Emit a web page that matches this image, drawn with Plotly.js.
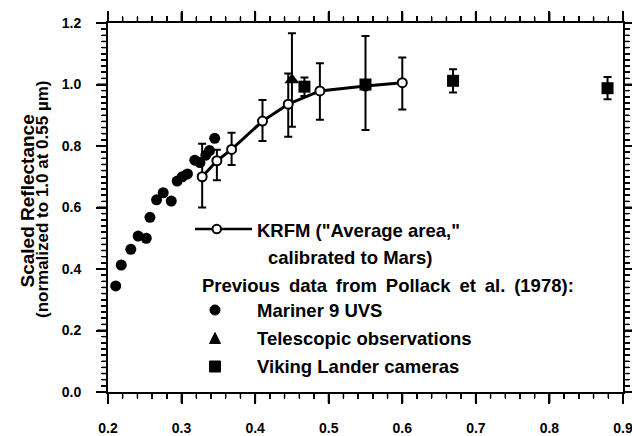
<!DOCTYPE html>
<html>
<head>
<meta charset="utf-8">
<script src="https://cdn.plot.ly/plotly-3.0.1.min.js"></script>
<style>
html,body{margin:0;padding:0;background:#fff;}
#chart{width:632px;height:436px;}
</style>
</head>
<body>
<div id="chart"></div>
<script>
// ---- data ----
var marinerX = [0.2105, 0.218, 0.231, 0.241, 0.252, 0.257, 0.266, 0.275, 0.286, 0.294, 0.301, 0.308, 0.318, 0.325, 0.333, 0.338, 0.345];
var marinerY = [0.345, 0.413, 0.464, 0.507, 0.500, 0.568, 0.625, 0.648, 0.621, 0.686, 0.700, 0.709, 0.754, 0.746, 0.770, 0.785, 0.825];

var teleX = [0.450];
var teleY = [1.015];
var teleErr = [0.152];

var krfmX = [0.328, 0.348, 0.368, 0.410, 0.445, 0.488, 0.550, 0.600];
var krfmY = [0.700, 0.752, 0.789, 0.881, 0.936, 0.979, 0.995, 1.006];
var krfmErrPlus = [0.107, 0.036, 0.054, 0.069, 0.100, 0.090, 0.163, 0.082];
var krfmErrMinus = [0.100, 0.063, 0.051, 0.065, 0.106, 0.094, 0.143, 0.087];

var vikingX = [0.467, 0.550, 0.669, 0.879];
var vikingY = [0.993, 1.000, 1.012, 0.988];
var vikingErr = [0.030, 0.000, 0.038, 0.036];

var xRange = [0.2, 0.9], yRange = [0.0, 1.2];
var xTick0 = 0.2, xDtick = 0.1, xMinorDtick = 0.02;
var yTick0 = 0.0, yDtick = 0.2, yMinorDtick = 0.02;

var legendLines = [
  'KRFM ("Average area,"',
  'calibrated to Mars)',
  'Previous\u2009 data\u2009 from\u2009 Pollack\u2009 et\u2009 al.\u2009 (1978):',
  'Mariner 9 UVS',
  'Telescopic observations',
  'Viking Lander cameras'
];
var yTitle1 = 'Scaled Reflectance';
var yTitle2 = '(normalized to 1.0 at 0.55 \u00b5m)';

// ---- layout helpers (pixel -> paper) ----
var L = 108, R = 623, T = 23, B = 392;
var W = R - L, H = B - T;
function px(x){ return (x - L) / W; }
function py(y){ return (B - y) / H; }

var FONT = 'Liberation Sans, Arial, Helvetica, sans-serif';
var errStyle = {thickness: 2, width: 4, color: '#000'};

var traces = [
  {x: marinerX, y: marinerY, mode: 'markers', type: 'scatter',
   marker: {symbol: 'circle', size: 11, color: '#000'}},
  {x: teleX, y: teleY, mode: 'markers', type: 'scatter',
   marker: {symbol: 'triangle-up', size: 13, color: '#000'},
   error_y: Object.assign({type: 'data', array: teleErr, visible: true}, errStyle)},
  {x: krfmX, y: krfmY, mode: 'lines+markers', type: 'scatter',
   line: {color: '#000', width: 3},
   marker: {symbol: 'circle', size: 9, color: '#fff', line: {color: '#000', width: 2}},
   error_y: Object.assign({type: 'data', symmetric: false, array: krfmErrPlus, arrayminus: krfmErrMinus, visible: true}, errStyle)},
  {x: vikingX, y: vikingY, mode: 'markers', type: 'scatter',
   marker: {symbol: 'square', size: 12, color: '#000'},
   error_y: Object.assign({type: 'data', array: vikingErr, visible: true}, errStyle)}
];

function axisBase(){
  return {
    showgrid: false, zeroline: false, showline: true, linecolor: '#000', linewidth: 2,
    mirror: 'ticks', ticks: 'outside', ticklen: 10, tickwidth: 2, tickcolor: '#000',
    tickfont: {family: FONT, size: 14, color: '#000', weight: 'bold'},
    tickformat: '.1f', ticklabeloverflow: 'allow'
  };
}

var layout = {
  width: 632, height: 436,
  margin: {l: L, r: 632 - R, t: T, b: 436 - B},
  showlegend: false,
  xaxis: Object.assign(axisBase(), {
    range: xRange, tick0: xTick0, dtick: xDtick, ticklabelstandoff: 12,
    minor: {dtick: xMinorDtick, ticks: 'outside', ticklen: 5, tickwidth: 1.5, tickcolor: '#000'}
  }),
  yaxis: Object.assign(axisBase(), {
    range: yRange, tick0: yTick0, dtick: yDtick, ticklabelstandoff: 12,
    minor: {dtick: yMinorDtick, ticks: 'outside', ticklen: 5, tickwidth: 1.5, tickcolor: '#000'}
  }),
  shapes: [],
  annotations: []
};

// tick marks on all four sides (paper-referenced lines placed at the axis tick values)
function xp(v){ return (v - xRange[0]) / (xRange[1] - xRange[0]); }
function yp(v){ return (v - yRange[0]) / (yRange[1] - yRange[0]); }
function tickLine(x0, x1, y0, y1, w){
  layout.shapes.push({type: 'line', xref: 'paper', yref: 'paper', x0: x0, x1: x1, y0: y0, y1: y1, line: {color: '#000', width: w}});
}
var nx = Math.round((xRange[1] - xRange[0]) / xMinorDtick);
for (var k = 0; k <= nx; k++) {
  var vx = xTick0 + k * xMinorDtick;
  var major = (k % Math.round(xDtick / xMinorDtick)) === 0;
  var len = major ? 10 : 5, w = major ? 2 : 1.5;
  tickLine(xp(vx), xp(vx), -1 / H, -(1 + len) / H, w);
  tickLine(xp(vx), xp(vx), 1 + 1 / H, 1 + (1 + len) / H, w);
}
var ny = Math.round((yRange[1] - yRange[0]) / yMinorDtick);
for (var j = 0; j <= ny; j++) {
  var vy = yTick0 + j * yMinorDtick;
  var majorY = (j % Math.round(yDtick / yMinorDtick)) === 0;
  var lenY = majorY ? 10 : 5, wY = majorY ? 2 : 1.5;
  tickLine(-1 / W, -(1 + lenY) / W, yp(vy), yp(vy), wY);
  tickLine(1 + 1 / W, 1 + (1 + lenY) / W, yp(vy), yp(vy), wY);
}

// legend symbols
layout.shapes.push(
  {type: 'line', xref: 'paper', yref: 'paper', x0: px(195), x1: px(252), y0: py(229), y1: py(229), line: {color: '#000', width: 2.5}},
  {type: 'circle', xref: 'paper', yref: 'paper', x0: px(212.5), x1: px(221), y0: py(233.3), y1: py(224.8), fillcolor: '#fff', line: {color: '#000', width: 2}},
  {type: 'circle', xref: 'paper', yref: 'paper', x0: px(210), x1: px(220), y0: py(315), y1: py(305), fillcolor: '#000', line: {color: '#000', width: 1}},
  {type: 'path', xref: 'paper', yref: 'paper',
   path: 'M ' + px(209.5) + ' ' + py(343.5) + ' L ' + px(220.5) + ' ' + py(343.5) + ' L ' + px(215) + ' ' + py(332.5) + ' Z',
   fillcolor: '#000', line: {color: '#000', width: 1}},
  {type: 'rect', xref: 'paper', yref: 'paper', x0: px(209.5), x1: px(220.5), y0: py(372), y1: py(361), fillcolor: '#000', line: {color: '#000', width: 1}}
);

var legendPos = [[255, 230], [266, 257.5], [200, 285], [255, 310], [255, 338], [255, 366.5]];
legendLines.forEach(function(t, i){
  layout.annotations.push({xref: 'paper', yref: 'paper', x: px(legendPos[i][0]), y: py(legendPos[i][1]),
    xanchor: 'left', yanchor: 'middle', showarrow: false, text: '<b>' + t + '</b>',
    font: {family: FONT, size: 18.5, color: '#000'}});
});
layout.annotations.push({xref: 'paper', yref: 'paper', x: px(27.5), y: py(201), xanchor: 'center', yanchor: 'middle',
  textangle: -90, showarrow: false, text: '<b>' + yTitle1 + '</b>', font: {family: FONT, size: 19, color: '#000'}});
layout.annotations.push({xref: 'paper', yref: 'paper', x: px(43), y: py(200), xanchor: 'center', yanchor: 'middle',
  textangle: -90, showarrow: false, text: '<b>' + yTitle2 + '</b>', font: {family: FONT, size: 17, color: '#000'}});

Plotly.newPlot('chart', traces, layout, {staticPlot: true, displayModeBar: false});
</script>
</body>
</html>
